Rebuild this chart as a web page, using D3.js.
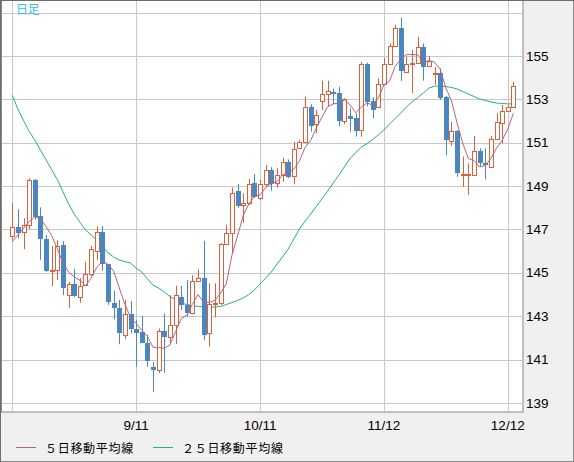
<!DOCTYPE html>
<html>
<head>
<meta charset="utf-8">
<script src="https://cdn.jsdelivr.net/npm/d3@7"></script>
<style>
  body { margin: 0; background: #f0f0f0; }
  svg { display: block; }
</style>
</head>
<body>
<div id="chart"></div>
<script>
// trading days, 2024-08-12 .. 2024-12-13
var dates = [
  "8/12","8/13","8/14","8/15","8/16","8/19","8/20","8/21","8/22","8/23",
  "8/26","8/27","8/28","8/29","8/30","9/2","9/3","9/4","9/5","9/6",
  "9/9","9/10","9/11","9/12","9/13","9/16","9/17","9/18","9/19","9/20",
  "9/23","9/24","9/25","9/26","9/27","9/30","10/1","10/2","10/3","10/4",
  "10/7","10/8","10/9","10/10","10/11","10/14","10/15","10/16","10/17","10/18",
  "10/21","10/22","10/23","10/24","10/25","10/28","10/29","10/30","10/31","11/1",
  "11/4","11/5","11/6","11/7","11/8","11/11","11/12","11/13","11/14","11/15",
  "11/18","11/19","11/20","11/21","11/22","11/25","11/26","11/27","11/28","11/29",
  "12/2","12/3","12/4","12/5","12/6","12/9","12/10","12/11","12/12","12/13"
];

var opens = [
  146.73,147.10,146.88,147.21,149.28,147.62,146.56,145.07,145.13,146.28,
  143.95,144.47,143.92,144.44,144.93,146.02,146.88,145.39,143.60,143.37,
  142.12,143.09,142.43,142.29,141.75,140.66,140.54,142.32,142.01,142.58,
  143.87,143.52,143.14,144.61,144.75,142.21,143.56,143.60,146.30,146.82,
  148.77,148.11,148.21,149.14,148.47,149.08,149.74,149.15,149.52,150.13,
  149.44,150.74,151.01,152.63,151.85,152.91,153.24,153.35,153.28,151.97,
  152.23,152.15,151.59,154.63,152.94,152.63,153.71,154.63,155.46,156.27,
  154.27,154.65,154.66,155.40,154.54,154.19,154.23,153.09,151.09,151.54,
  149.53,149.53,149.54,150.60,150.05,149.89,151.16,151.92,152.43,152.63
];
var highs = [
  148.24,147.93,147.52,149.36,149.33,148.02,146.75,146.24,146.51,146.47,
  144.59,145.18,144.75,145.51,146.24,147.13,147.16,145.41,144.18,143.75,
  143.75,143.70,142.83,143.01,142.14,140.90,142.44,143.13,143.97,144.41,
  144.41,144.67,144.90,145.16,146.47,144.52,144.52,146.36,147.21,148.94,
  149.10,148.67,149.33,149.56,149.28,149.97,149.87,149.82,150.31,150.23,
  151.05,151.13,153.12,152.78,152.51,153.86,153.86,153.50,153.58,153.05,
  152.59,152.36,154.73,154.69,153.09,153.97,154.92,155.58,156.43,156.78,
  154.97,155.27,155.89,155.58,155.00,154.50,154.43,153.16,151.97,151.59,
  150.36,150.05,151.31,150.74,150.74,151.31,152.36,152.74,152.74,153.81
];
var lows = [
  146.52,146.58,146.09,147.01,147.45,145.60,145.04,144.39,144.67,143.98,
  143.39,143.89,143.62,144.39,144.86,145.59,145.10,143.52,142.86,141.71,
  141.95,142.21,140.67,141.75,140.67,139.52,140.38,140.40,141.71,141.71,
  143.29,142.98,143.10,144.58,141.90,141.60,142.95,143.52,146.28,145.90,
  147.98,147.31,148.13,148.45,148.36,149.00,148.79,148.93,149.20,149.37,
  149.08,150.71,150.99,151.51,151.43,152.51,152.66,152.78,151.77,151.85,
  151.51,151.28,151.28,152.67,152.13,152.60,153.66,154.58,155.41,153.85,
  154.26,153.28,154.63,153.86,154.49,153.66,152.97,150.43,150.85,149.43,
  148.97,148.59,149.47,149.90,149.31,149.83,151.13,150.97,152.42,152.60
];
var closes = [
  147.13,146.82,147.19,149.27,147.56,146.55,145.07,145.13,146.24,144.29,
  144.47,143.90,144.41,144.93,146.09,146.90,145.39,143.63,143.39,142.24,
  143.09,142.38,142.24,141.78,140.90,140.54,142.32,142.06,142.58,143.97,
  143.50,143.16,144.61,144.75,142.12,143.56,143.60,146.33,146.82,148.67,
  148.10,148.21,149.08,148.51,149.11,149.74,149.11,149.52,150.13,149.44,
  150.70,151.02,152.63,151.77,152.26,153.24,153.39,153.28,151.97,153.00,
  152.11,151.55,154.63,152.88,152.54,153.69,154.63,155.46,156.27,154.31,
  154.63,154.66,155.40,154.50,154.77,154.20,153.08,151.09,151.54,149.62,
  149.56,149.56,150.63,150.05,149.94,151.17,151.94,152.46,152.63,153.62
];

// moving averages as drawn
var ma5 = [
  146.44,146.75,147.05,147.36,147.59,147.48,147.13,146.72,146.11,145.46,
  145.04,144.81,144.66,144.40,144.76,145.25,145.54,145.39,145.08,144.31,
  143.55,142.95,142.67,142.35,142.08,141.57,141.56,141.52,141.68,142.29,
  142.89,143.05,143.56,144.00,143.63,143.64,143.73,144.07,144.49,145.80,
  146.70,147.63,148.18,148.51,148.60,148.93,149.11,149.20,149.52,149.59,
  149.78,150.16,150.78,151.11,151.68,152.18,152.66,152.79,152.83,152.98,
  152.75,152.38,152.65,152.83,152.74,153.06,153.67,153.84,154.52,154.87,
  155.06,155.07,155.05,154.70,154.79,154.71,154.39,153.53,152.94,151.91,
  150.98,150.27,150.18,149.88,149.95,150.27,150.75,151.11,151.63,152.36
];
var ma25 = [
  153.19,152.55,152.02,151.52,151.13,150.66,150.21,149.76,149.30,148.73,
  148.18,147.71,147.34,146.98,146.75,146.52,146.24,145.92,145.73,145.59,
  145.52,145.45,145.22,145.04,144.72,144.44,144.30,144.12,143.91,143.75,
  143.61,143.54,143.50,143.45,143.43,143.40,143.43,143.45,143.54,143.63,
  143.73,143.84,144.00,144.21,144.49,144.76,145.04,145.41,145.73,146.10,
  146.56,147.02,147.39,147.71,148.06,148.41,148.77,149.14,149.51,149.90,
  150.27,150.55,150.80,150.96,151.15,151.36,151.59,151.86,152.12,152.37,
  152.65,152.88,153.09,153.29,153.52,153.61,153.61,153.59,153.55,153.48,
  153.36,153.25,153.13,153.02,152.95,152.88,152.83,152.81,152.79,152.80
];

var gridDates = ["8/12", "9/11", "10/11", "11/12", "12/12"];
var labelDates = ["9/11", "10/11", "11/12", "12/12"];
var gridPrices = [139, 141, 143, 145, 147, 149, 151, 153, 155, 157];
var labelPrices = [139, 141, 143, 145, 147, 149, 151, 153, 155];

var svgWidth = 574;
var svgHeight = 462;
var plot = { left: 1, top: 1, right: 523, bottom: 412 };

var upColor = "#d9623d";
var downColor = "#4a87c1";
var ma5Color = "#b5627f";
var ma25Color = "#2bad79";

var svg = d3.select("#chart")
  .append("svg")
  .attr("width", svgWidth)
  .attr("height", svgHeight);

svg.append("rect")
  .attr("x", 0.5).attr("y", 0.5)
  .attr("width", svgWidth - 1).attr("height", svgHeight - 1)
  .attr("fill", "#f0f0f0")
  .attr("stroke", "#8a8a8a");

svg.append("rect")
  .attr("x", plot.left + 0.5).attr("y", plot.top - 0.5)
  .attr("width", plot.right - plot.left - 0.5)
  .attr("height", plot.bottom - plot.top + 0.5)
  .attr("fill", "#fff")
  .attr("stroke", "#888");

svg.append("line")
  .attr("x1", 0.5).attr("x2", 0.5)
  .attr("y1", 0).attr("y2", svgHeight)
  .attr("stroke", "#6e6e66");
svg.append("line")
  .attr("x1", 0).attr("x2", svgWidth)
  .attr("y1", 0.5).attr("y2", 0.5)
  .attr("stroke", "#6e6e66");

svg.append("clipPath").attr("id", "plotClip")
  .append("rect")
  .attr("x", plot.left + 1).attr("y", plot.top)
  .attr("width", plot.right - plot.left - 1)
  .attr("height", plot.bottom - plot.top);

// scales
var x = d3.scalePoint()
  .domain(dates)
  .range([12.3, 513.4]);

var y = d3.scaleLinear()
  .domain([139, 157])
  .range([403, 12.6]);

var px = function(v) { return Math.round(v) + 0.5; };

var chartGroup = svg.append("g").attr("clip-path", "url(#plotClip)");

// grid
chartGroup.selectAll(".hgrid")
  .data(gridPrices)
  .enter()
  .append("line")
  .attr("x1", plot.left).attr("x2", plot.right)
  .attr("y1", d => px(y(d))).attr("y2", d => px(y(d)))
  .attr("stroke", "#c8c8c8");

chartGroup.selectAll(".vgrid")
  .data(gridDates)
  .enter()
  .append("line")
  .attr("x1", d => px(x(d))).attr("x2", d => px(x(d)))
  .attr("y1", plot.top).attr("y2", plot.bottom)
  .attr("stroke", "#c8c8c8");

// title
svg.append("text")
  .attr("x", 16)
  .attr("y", 11)
  .attr("dominant-baseline", "middle")
  .attr("font-family", "'Noto Sans CJK JP', sans-serif")
  .attr("font-size", 12)
  .attr("letter-spacing", -0.5)
  .attr("fill", "#3db8ea")
  .text("日足");

// moving averages
var maLine = d3.line()
  .x((d, i) => x(dates[i]))
  .y(d => y(d));

chartGroup.append("path")
  .datum(ma25)
  .attr("d", maLine)
  .attr("fill", "none")
  .attr("stroke", ma25Color)
  .attr("stroke-width", 1);

// candles
var candles = dates.map(function(d, i) {
  return { date: d, open: opens[i], high: highs[i], low: lows[i], close: closes[i] };
});

var bodyW = 5;

var candleGroup = chartGroup.selectAll(".candle")
  .data(candles)
  .enter()
  .append("g");

candleGroup.append("line")
  .attr("x1", d => px(x(d.date))).attr("x2", d => px(x(d.date)))
  .attr("y1", d => y(d.high)).attr("y2", d => y(d.low))
  .attr("stroke", d => d.close >= d.open ? upColor : downColor);

candleGroup.append("rect")
  .attr("x", d => Math.round(x(d.date)) - 2 + (d.close >= d.open ? 0.5 : 0))
  .attr("y", d => Math.round(y(Math.max(d.open, d.close))) + (d.close >= d.open ? 0.5 : 0))
  .attr("width", d => d.close >= d.open ? bodyW - 1 : bodyW)
  .attr("height", d => Math.max(1, Math.round(Math.abs(y(d.open) - y(d.close)))))
  .attr("fill", d => d.close >= d.open ? "#fff" : downColor)
  .attr("stroke", d => d.close >= d.open ? upColor : "none");

chartGroup.append("path")
  .datum(ma5)
  .attr("d", maLine)
  .attr("fill", "none")
  .attr("stroke", ma5Color)
  .attr("stroke-width", 1);

// axis labels
svg.selectAll(".ylab")
  .data(labelPrices)
  .enter()
  .append("text")
  .attr("x", 526)
  .attr("y", d => y(d) + 1)
  .attr("dominant-baseline", "middle")
  .attr("font-family", "'Liberation Sans', sans-serif")
  .attr("font-size", 13.5)
  .attr("fill", "#000")
  .text(d => d);

svg.selectAll(".xlab")
  .data(labelDates)
  .enter()
  .append("text")
  .attr("x", d => x(d))
  .attr("y", 426)
  .attr("text-anchor", "middle")
  .attr("dominant-baseline", "middle")
  .attr("font-family", "'Liberation Sans', sans-serif")
  .attr("font-size", 13.5)
  .attr("fill", "#000")
  .text(d => d);

// legend
var legendItems = [
  { label: "５日移動平均線", color: ma5Color, x: 16 },
  { label: "２５日移動平均線", color: ma25Color, x: 153 }
];

var legend = svg.selectAll(".legend")
  .data(legendItems)
  .enter()
  .append("g")
  .attr("transform", d => `translate(${d.x}, 447.5)`);

legend.append("line")
  .attr("x1", 0).attr("x2", 20)
  .attr("stroke", d => d.color);

legend.append("text")
  .attr("x", 29)
  .attr("y", 2)
  .attr("dominant-baseline", "middle")
  .attr("font-family", "'Noto Sans CJK JP', sans-serif")
  .attr("font-size", 12)
  .attr("letter-spacing", 0.7)
  .attr("fill", "#000")
  .text(d => d.label);
</script>
</body>
</html>
